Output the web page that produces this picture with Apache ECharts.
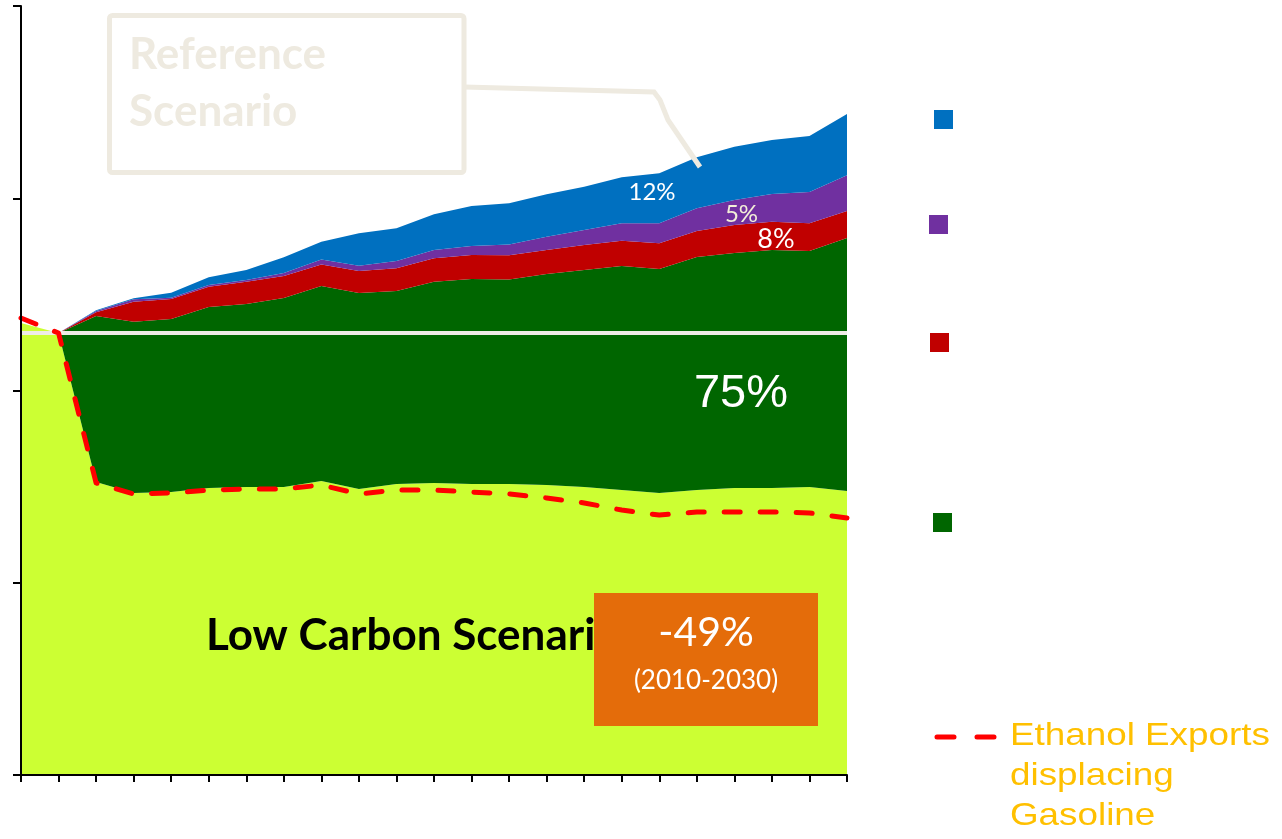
<!DOCTYPE html>
<html>
<head>
<meta charset="utf-8">
<script src="https://cdn.jsdelivr.net/npm/echarts@6/dist/echarts.min.js"></script>
<style>
  html, body { margin: 0; padding: 0; background: #ffffff; }
  #chart { width: 1282px; height: 839px; }
</style>
</head>
<body>
<div id="chart"></div>
<script>
// Years along the horizontal axis
const years = ['2009','2010','2011','2012','2013','2014','2015','2016','2017','2018','2019','2020',
               '2021','2022','2023','2024','2025','2026','2027','2028','2029','2030','2031'];

// Emissions under the low carbon scenario (bottom band)
const lowCarbon = [235.1, 229.9, 152.4, 146.7, 147.2, 149.3, 149.8, 149.8, 152.9, 148.8, 151.4, 151.9,
                   151.4, 151.4, 150.8, 149.8, 148.2, 146.7, 148.2, 149.3, 149.3, 149.8, 147.7];

// Reduction wedges stacked on top, up to the reference scenario
const wedgeGreen  = [0, 0, 86.4, 89.1, 90.0, 94.1, 95.2, 98.3, 101.5, 101.9, 100.4, 104.7,
                     106.6, 106.4, 109.8, 112.9, 116.6, 116.5, 121.2, 122.2, 123.8, 122.8, 131.6];
const wedgeRed    = [0, 0, 1.9, 10.4, 10.4, 10.6, 11.6, 11.5, 11.2, 11.5, 11.8, 12.2,
                     12.5, 12.5, 12.5, 13.0, 13.1, 13.4, 13.6, 14.6, 14.7, 14.4, 14.1];
const wedgePurple = [0, 0, 0.7, 1.2, 0.7, 0.9, 0.9, 1.5, 2.6, 2.7, 3.8, 4.3,
                     4.7, 5.7, 6.9, 7.8, 9.1, 10.4, 11.8, 13.0, 14.4, 16.3, 18.5];
const wedgeBlue   = [0, 0, 0.3, 0.6, 2.6, 4.0, 5.2, 8.2, 9.2, 16.9, 17.0, 18.6,
                     20.8, 21.4, 22.1, 22.5, 23.9, 26.0, 26.5, 27.7, 28.1, 29.1, 31.9];

// Low carbon emissions when ethanol exports displace gasoline
const ethanolExports = [237.7, 229.9, 151.9, 146.2, 146.7, 148.2, 148.8, 148.8, 150.8, 146.2, 148.2, 148.2,
                        147.2, 146.2, 144.1, 141.5, 137.8, 135.2, 136.8, 136.8, 136.8, 136.3, 133.7];

// 2010 emission level
const level2010 = 229.9;

const names = {
  low: 'Low Carbon Scenario',
  green: 'Wedge 1',
  red: 'Wedge 2',
  purple: 'Wedge 3',
  blue: 'Wedge 4',
  eth: 'Ethanol Exports displacing Gasoline'
};

const cream = '#eeeae0';
const calibriLike = 'Lato, "Open Sans", sans-serif';
const arialLike = '"Liberation Sans", Arial, sans-serif';

function areaSeries(name, data, color, extra) {
  return Object.assign({
    name: name,
    type: 'line',
    stack: 'total',
    data: data,
    symbol: 'none',
    showSymbol: false,
    lineStyle: { width: 0 },
    itemStyle: { color: color },
    areaStyle: { color: color, opacity: 1 },
    emphasis: { disabled: true },
    z: 2
  }, extra || {});
}

function squareLegend(name, left, top) {
  return {
    data: [name],
    left: left, top: top,
    padding: 0,
    icon: 'rect',
    itemWidth: 19, itemHeight: 19,
    formatter: () => '',
    selectedMode: false
  };
}

const chart = echarts.init(document.getElementById('chart'), null, { renderer: 'canvas' });

chart.setOption({
  animation: false,
  backgroundColor: '#ffffff',
  grid: { left: 21, right: 435, top: 6, bottom: 64, containLabel: false },
  xAxis: {
    type: 'category',
    data: years,
    boundaryGap: false,
    z: 10,
    axisLine: { show: true, lineStyle: { color: '#000000', width: 2 } },
    axisTick: { show: true, interval: 0, length: 7, lineStyle: { color: '#000000', width: 2 } },
    axisLabel: { show: false },
    splitLine: { show: false }
  },
  yAxis: {
    type: 'value',
    min: 0, max: 400, interval: 100,
    z: 10,
    axisLine: { show: true, lineStyle: { color: '#000000', width: 2 } },
    axisTick: { show: true, length: 8, lineStyle: { color: '#000000', width: 2 } },
    axisLabel: { show: false },
    splitLine: { show: false }
  },
  legend: [
    squareLegend(names.blue, 934, 110),
    squareLegend(names.purple, 929, 215),
    squareLegend(names.red, 930, 333),
    squareLegend(names.green, 933, 513),
    {
      data: [{ name: names.eth, itemStyle: { opacity: 0 } }],
      left: 934.5, top: 734.5,
      padding: 0,
      itemWidth: 62, itemHeight: 5,
      lineStyle: { type: [17, 23], width: 5, cap: 'round', color: '#ff0000' },
      formatter: () => '',
      selectedMode: false
    }
  ],
  series: [
    areaSeries(names.low, lowCarbon, '#ccff33'),
    areaSeries(names.green, wedgeGreen, '#006600'),
    areaSeries(names.red, wedgeRed, '#c00000'),
    areaSeries(names.purple, wedgePurple, '#7030a0'),
    areaSeries(names.blue, wedgeBlue, '#0070c0', {
      markLine: {
        silent: true,
        symbol: 'none',
        label: { show: false },
        lineStyle: { color: '#eeece6', width: 4, type: 'solid' },
        data: [{ yAxis: level2010 }]
      }
    }),
    {
      name: names.eth,
      type: 'line',
      data: ethanolExports,
      symbol: 'none',
      showSymbol: false,
      lineStyle: { color: '#ff0000', width: 5, type: [16, 20], cap: 'round', join: 'round' },
      itemStyle: { color: '#ff0000' },
      emphasis: { disabled: true },
      z: 5
    }
  ],
  graphic: [
    // Reference scenario callout
    {
      type: 'rect', z: 20,
      shape: { x: 109.5, y: 15.5, width: 354.5, height: 157, r: 3 },
      style: { fill: 'none', stroke: cream, lineWidth: 5 }
    },
    {
      type: 'polyline', z: 20,
      shape: { points: [[464, 87], [654, 92], [660, 100], [668, 120], [700, 167]] },
      style: { fill: 'none', stroke: cream, lineWidth: 5 }
    },
    {
      type: 'text', z: 21, x: 129, y: 55,
      style: { text: 'Reference', font: 'bold 44px ' + calibriLike, fill: cream, verticalAlign: 'middle' }
    },
    {
      type: 'text', z: 21, x: 129, y: 112,
      style: { text: 'Scenario', font: 'bold 44px ' + calibriLike, fill: cream, verticalAlign: 'middle' }
    },
    // Wedge shares
    {
      type: 'text', z: 21, x: 652, y: 192,
      style: { text: '12%', font: '24px ' + calibriLike, fill: '#ffffff', align: 'center', verticalAlign: 'middle' }
    },
    {
      type: 'text', z: 21, x: 741.5, y: 214.5,
      style: { text: '5%', font: '24px ' + calibriLike, fill: '#f3eed8', align: 'center', verticalAlign: 'middle' }
    },
    {
      type: 'text', z: 21, x: 776, y: 239,
      style: { text: '8%', font: '27px ' + calibriLike, fill: '#ffffff', align: 'center', verticalAlign: 'middle' }
    },
    {
      type: 'text', z: 21, x: 741, y: 394,
      style: { text: '75%', font: '47px ' + arialLike, fill: '#ffffff', align: 'center', verticalAlign: 'middle' }
    },
    // Low carbon scenario label, partly covered by the reduction box
    {
      type: 'text', z: 21, x: 206, y: 636,
      style: { text: 'Low Carbon Scenario', font: 'bold 44px ' + calibriLike, fill: '#000000', verticalAlign: 'middle' }
    },
    {
      type: 'rect', z: 22,
      shape: { x: 594, y: 593, width: 224, height: 133 },
      style: { fill: '#e46c0a' }
    },
    {
      type: 'text', z: 23, x: 706, y: 633,
      style: { text: '-49%', font: '41px ' + calibriLike, fill: '#ffffff', align: 'center', verticalAlign: 'middle' }
    },
    {
      type: 'text', z: 23, x: 706, y: 681,
      style: { text: '(2010-2030)', font: '26px ' + calibriLike, fill: '#ffffff', align: 'center', verticalAlign: 'middle' }
    },
    // Caption for the dashed ethanol line
    {
      type: 'text', z: 21, x: 1010, y: 716, scaleX: 1.15,
      style: {
        text: 'Ethanol Exports\ndisplacing\nGasoline',
        font: '32px ' + arialLike, fill: '#ffc000',
        lineHeight: 40, verticalAlign: 'top'
      }
    }
  ]
});
</script>
</body>
</html>
